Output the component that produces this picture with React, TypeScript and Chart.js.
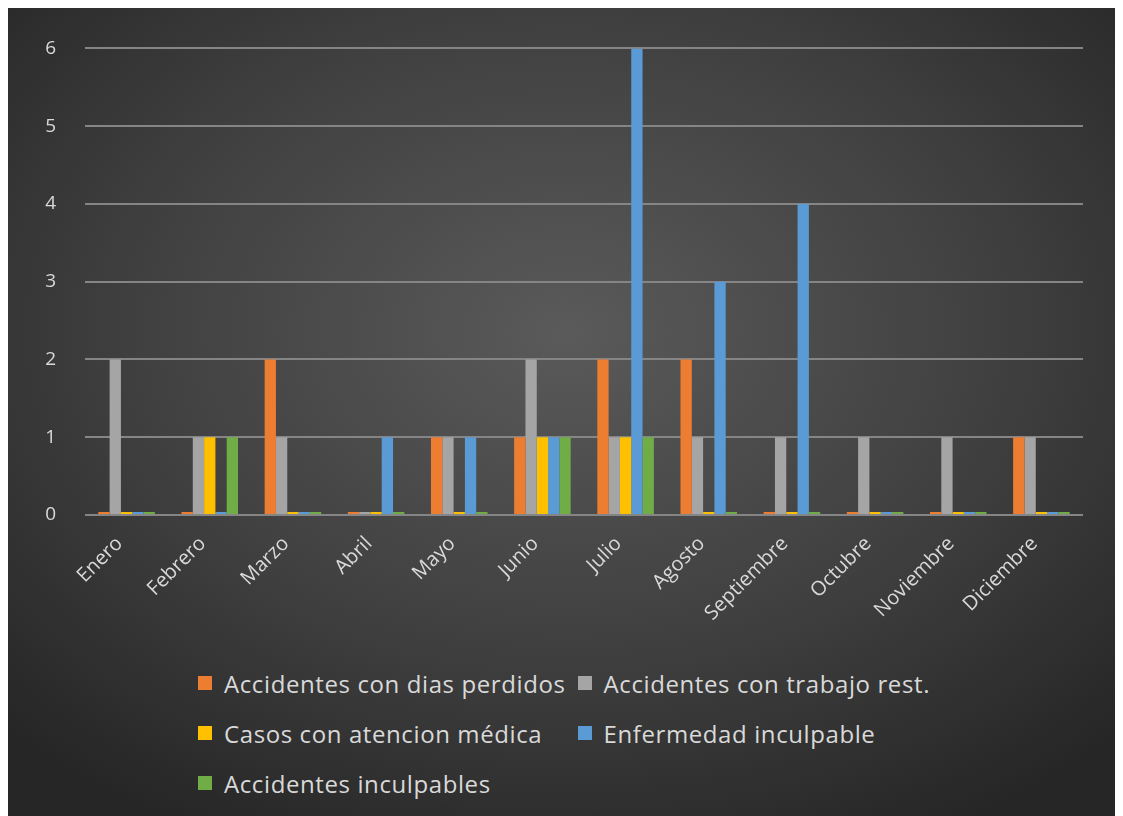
import React, { useEffect, useRef } from "react";
import { Chart, registerables } from "chart.js";

Chart.register(...registerables);

const months = ["Enero", "Febrero", "Marzo", "Abril", "Mayo", "Junio", "Julio", "Agosto", "Septiembre", "Octubre", "Noviembre", "Diciembre"];
const seriesNames = ["Accidentes con dias perdidos", "Accidentes con trabajo rest.", "Casos con atencion médica", "Enfermedad inculpable", "Accidentes inculpables"];
const diasPerdidos = [0, 0, 2, 0, 1, 1, 2, 2, 0, 0, 0, 1];
const trabajoRest = [2, 1, 1, 0, 1, 2, 1, 1, 1, 1, 1, 1];
const atencionMedica = [0, 1, 0, 0, 0, 1, 1, 0, 0, 0, 0, 0];
const enfermedad = [0, 0, 0, 1, 1, 1, 6, 3, 4, 0, 0, 0];
const inculpables = [0, 1, 0, 0, 0, 1, 1, 0, 0, 0, 0, 0];
const seriesColors = ["#ed7d31", "#a5a5a5", "#ffc000", "#5b9bd5", "#70ad47"];
const yTicks = [0, 1, 2, 3, 4, 5, 6];

const FONT = "'Open Sans', Lato, sans-serif";

export default function App() {
  const ref = useRef<HTMLCanvasElement | null>(null);
  useEffect(() => {
    if (!ref.current) return;
    const values = [diasPerdidos, trabajoRest, atencionMedica, enfermedad, inculpables];
    const chart = new Chart(ref.current, {
      type: "bar",
      data: {
        labels: months,
        datasets: seriesNames.map((name, i) => ({
          label: name,
          data: values[i],
          backgroundColor: seriesColors[i],
          borderWidth: 0,
          minBarLength: 3,
          categoryPercentage: 0.68,
          barPercentage: 1.0,
        })),
      },
      options: {
        animation: false,
        responsive: false,
        maintainAspectRatio: false,
        layout: { padding: { top: 39, right: 41, left: 0, bottom: 0 } },
        plugins: { legend: { display: false }, tooltip: { enabled: false } },
        scales: {
          x: {
            grid: { display: false },
            border: { display: false },
            ticks: {
              color: "#d9d9d9",
              font: { family: FONT, size: 20 },
              maxRotation: 45,
              minRotation: 45,
              padding: 9,
              labelOffset: -7,
            },
            afterFit: (s: any) => { s.height = 133; },
          },
          y: {
            min: 0,
            max: 6,
            afterBuildTicks: (s: any) => { s.ticks = yTicks.map((v) => ({ value: v })); },
            grid: { color: "#858585", lineWidth: 2, drawTicks: false },
            border: { display: false },
            ticks: {
              color: "#d9d9d9",
              font: { family: FONT, size: 19 },
              padding: 29,
            },
            afterFit: (s: any) => { s.width = 77; },
          },
        },
      },
    });
    return () => chart.destroy();
  }, []);

  return (
    <div
      style={{
        position: "relative",
        width: 1116,
        height: 810,
        background: "radial-gradient(ellipse 70% 70% at 50% 40%, #5a5a5a 0%, #404040 55%, #262626 100%)",
        fontFamily: FONT,
      }}
    >
      <canvas ref={ref} width={1116} height={640} style={{ position: "absolute", left: 0, top: 0, width: 1116, height: 640 }} />
      <div
        style={{
          position: "absolute",
          left: 190,
          top: 650,
          display: "grid",
          gridTemplateColumns: "auto auto",
          columnGap: 12,
          color: "#d9d9d9",
          fontSize: 24,
          letterSpacing: 0.6,
        }}
      >
        {seriesNames.map((name, i) => (
          <div key={name} style={{ display: "flex", alignItems: "center", height: 50, whiteSpace: "nowrap" }}>
            <span style={{ display: "inline-block", width: 14, height: 14, background: seriesColors[i], marginRight: 12 }} />
            <span>{name}</span>
          </div>
        ))}
      </div>
    </div>
  );
}
